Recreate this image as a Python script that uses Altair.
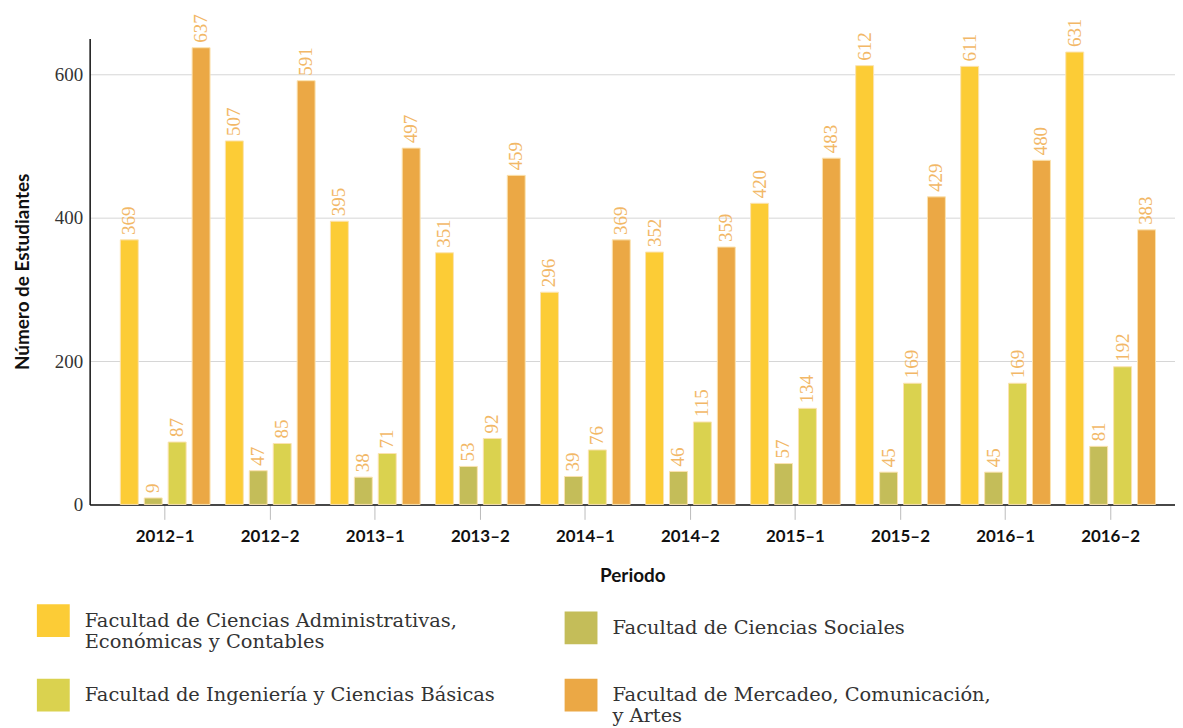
import altair as alt
import pandas as pd

periods = ["2012–1", "2012–2", "2013–1", "2013–2", "2014–1",
           "2014–2", "2015–1", "2015–2", "2016–1", "2016–2"]
faculties = [
    "Facultad de Ciencias Administrativas, Económicas y Contables",
    "Facultad de Ciencias Sociales",
    "Facultad de Ingeniería y Ciencias Básicas",
    "Facultad de Mercadeo, Comunicación, y Artes",
]
admin = [369, 507, 395, 351, 296, 352, 420, 612, 611, 631]
sociales = [9, 47, 38, 53, 39, 46, 57, 45, 45, 81]
ingenieria = [87, 85, 71, 92, 76, 115, 134, 169, 169, 192]
mercadeo = [637, 591, 497, 459, 369, 359, 483, 429, 480, 383]
colors = ["#FCCC36", "#C4BD59", "#DAD24F", "#EBA845"]

rows = []
for series, fac in zip([admin, sociales, ingenieria, mercadeo], faculties):
    for p, v in zip(periods, series):
        rows.append({"Periodo": p, "Facultad": fac, "Valor": v})
df = pd.DataFrame(rows)

label_expr = (
    "datum.label == '" + faculties[0] + "' ? ['Facultad de Ciencias Administrativas,', 'Económicas y Contables'] : "
    "datum.label == '" + faculties[3] + "' ? ['Facultad de Mercadeo, Comunicación,', 'y Artes'] : datum.label"
)

x = alt.X("Periodo:N", sort=periods,
          scale=alt.Scale(paddingInner=0, paddingOuter=0.166, align=0.66),
          axis=alt.Axis(title="Periodo", labelAngle=0, labelFont="Lato",
                        labelFontWeight="bold", labelFontSize=17, labelColor="#111",
                        titleFont="Lato", titleFontWeight="bold", titleFontSize=19,
                        titleColor="#111", titlePadding=22, tickColor="#bbbbbb",
                        tickSize=15, labelPadding=9, domainColor="#111",
                        domainWidth=1.5, grid=False))
xoff = alt.XOffset("Facultad:N", sort=faculties,
                   scale=alt.Scale(paddingInner=0.25, paddingOuter=0.32))
y = alt.Y("Valor:Q", scale=alt.Scale(domain=[0, 650], nice=False),
          axis=alt.Axis(title="Número de Estudiantes", values=[0, 200, 400, 600],
                        labelFont="Liberation Serif", labelFontSize=19,
                        labelColor="#333", ticks=False, labelPadding=7,
                        titleFont="Lato", titleFontWeight="bold", titleFontSize=19,
                        titleColor="#111", titlePadding=22,
                        gridColor="#d6d6d6", domainColor="#111", domainWidth=1.5))

bars = alt.Chart(df).mark_bar(stroke="#FBE3B0", strokeWidth=1).encode(
    x=x, xOffset=xoff, y=y,
    color=alt.Color("Facultad:N", sort=faculties,
                    scale=alt.Scale(domain=faculties, range=colors),
                    legend=alt.Legend(title=None, orient="none", direction="horizontal",
                                      legendX=-53, legendY=568, columns=2,
                                      columnPadding=69, rowPadding=27,
                                      symbolType="square", symbolSize=1089,
                                      symbolStrokeWidth=0,
                                      labelFont="DejaVu Serif", labelFontSize=19.5,
                                      labelColor="#333", labelOffset=15,
                                      labelLimit=600, labelExpr=label_expr)),
)

text = alt.Chart(df).mark_text(angle=270, align="left", baseline="middle", dx=5,
                               font="Liberation Serif", fontSize=19,
                               color="#F2B867").encode(
    x=alt.X("Periodo:N", sort=periods), xOffset=alt.XOffset("Facultad:N", sort=faculties),
    y="Valor:Q", text="Valor:Q")

chart = (bars + text).properties(
    width=1090, height=468,
    padding={"left": 5, "top": 4, "right": 0, "bottom": 0},
).configure_view(stroke=None)

chart.save("out.html", embed_options={"renderer": "svg", "actions": False})
